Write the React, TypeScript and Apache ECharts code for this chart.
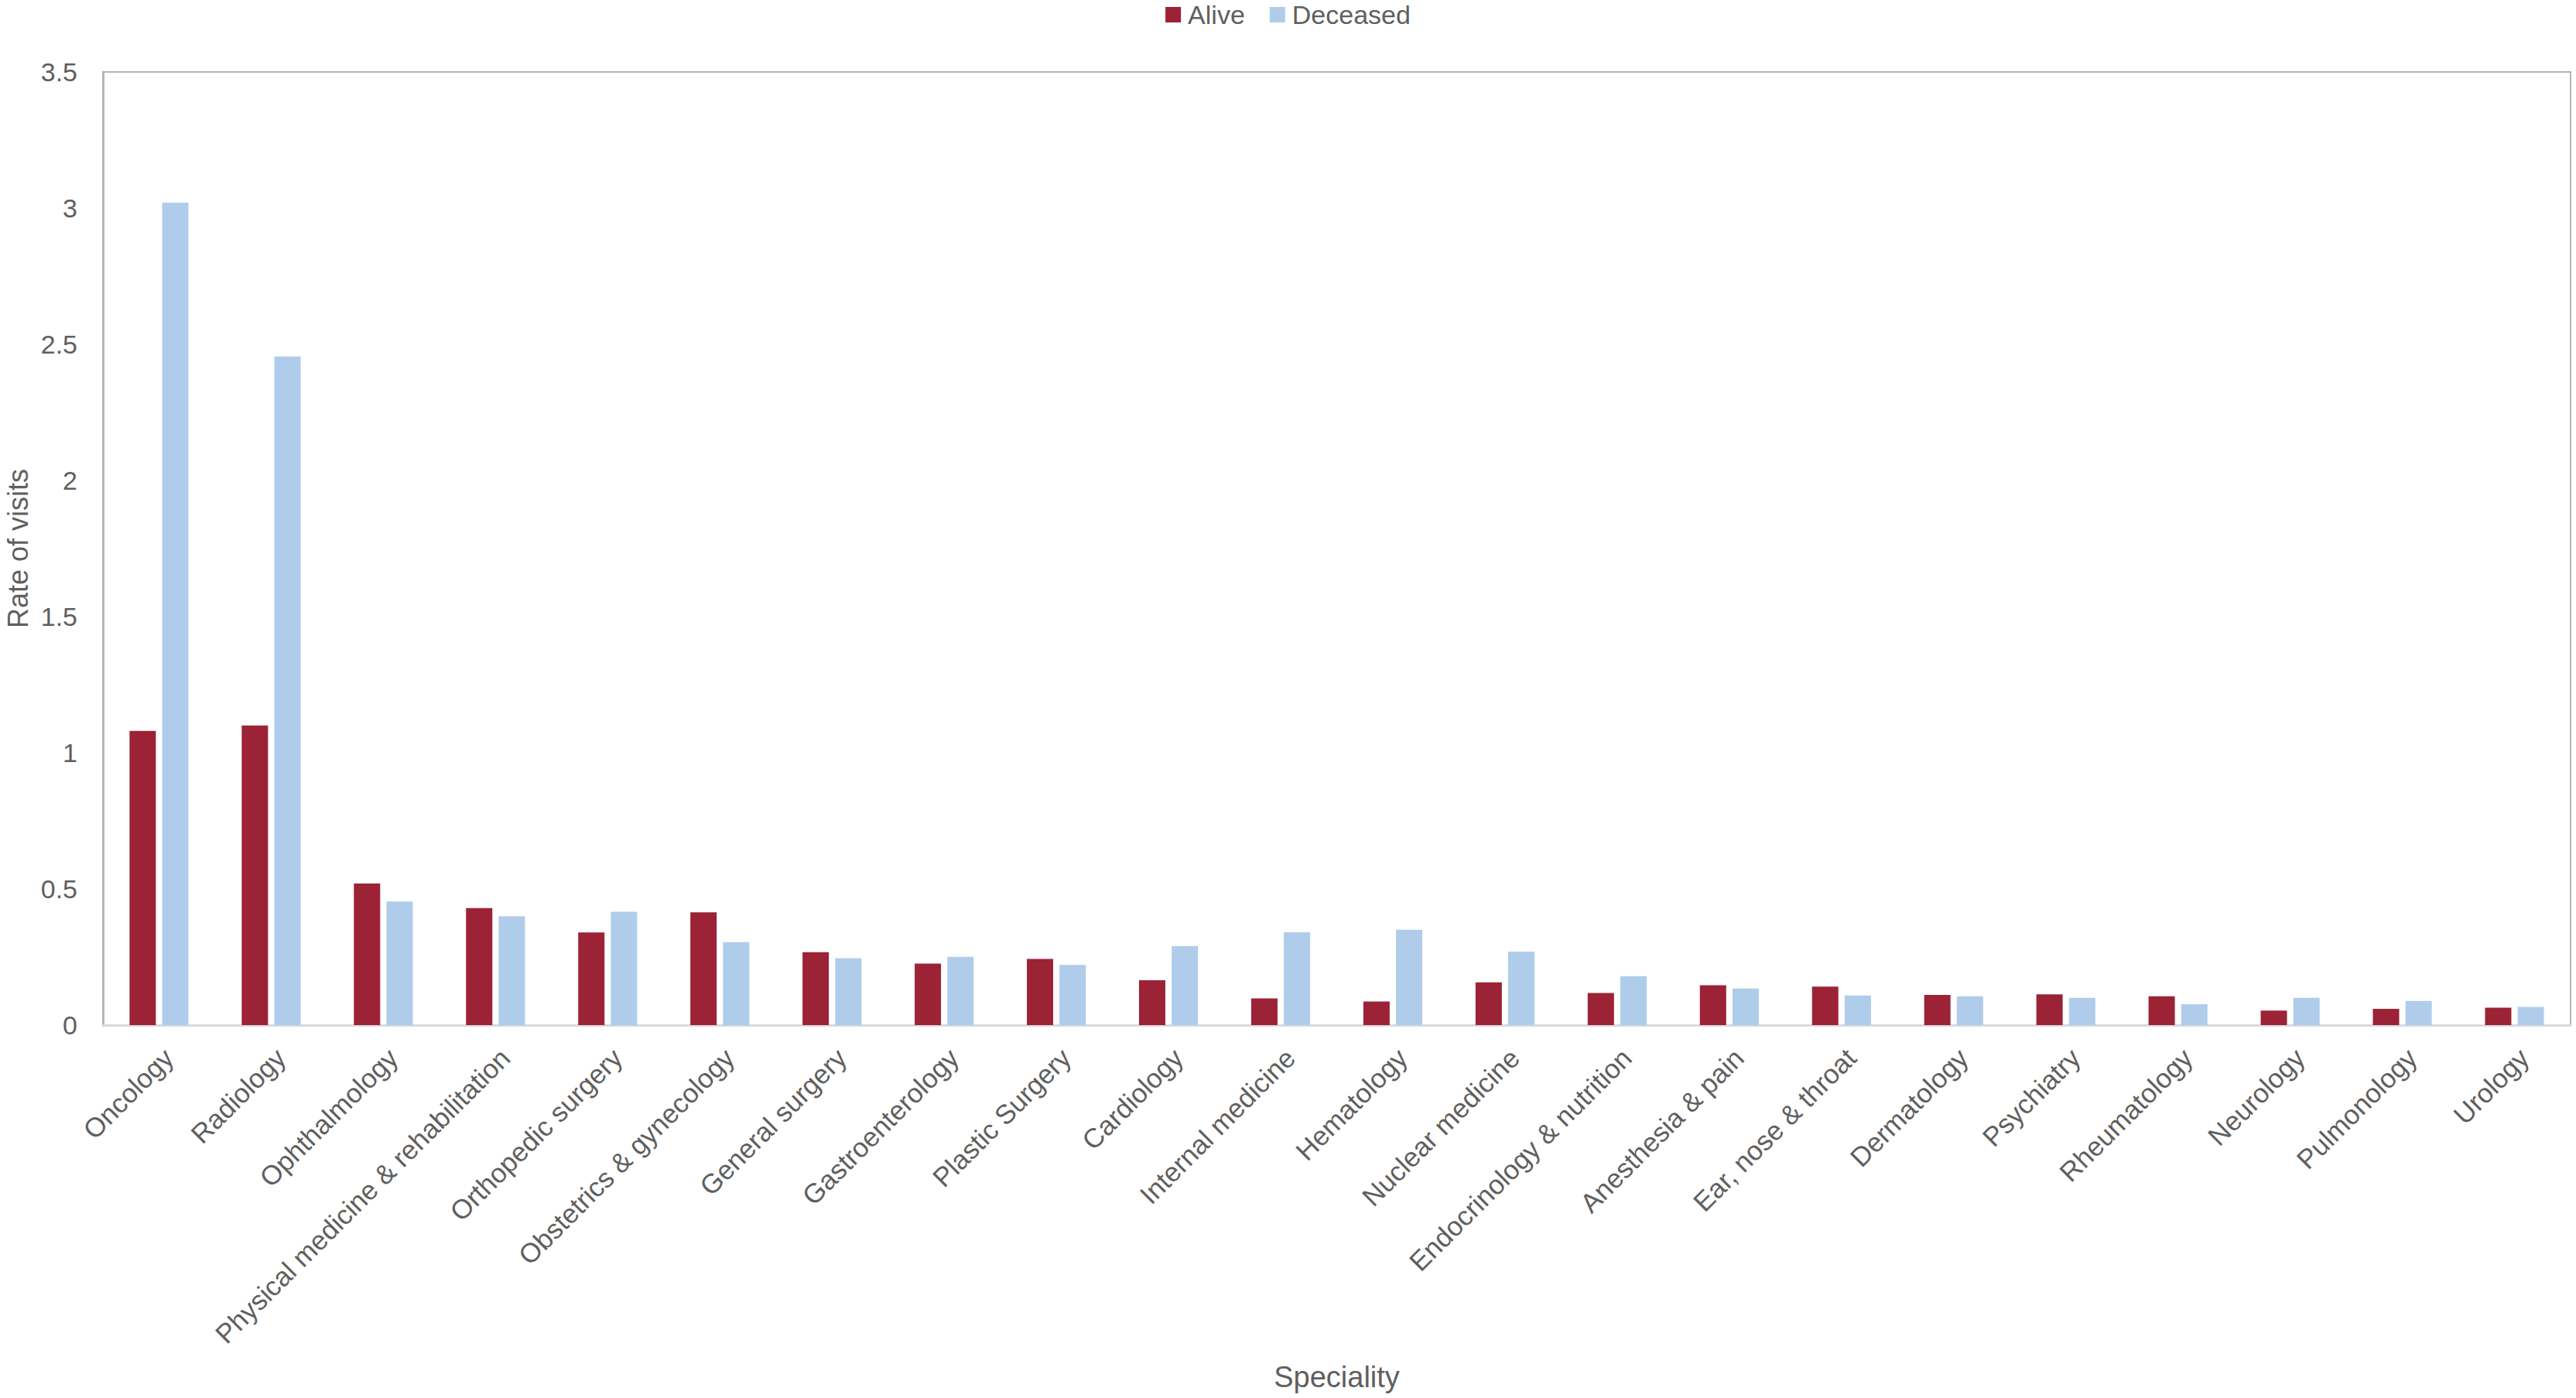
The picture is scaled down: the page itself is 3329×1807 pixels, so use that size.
import React, { useEffect, useRef } from "react";
import * as echarts from "echarts";

const categories = [
  "Oncology",
  "Radiology",
  "Ophthalmology",
  "Physical medicine & rehabilitation",
  "Orthopedic surgery",
  "Obstetrics & gynecology",
  "General surgery",
  "Gastroenterology",
  "Plastic Surgery",
  "Cardiology",
  "Internal medicine",
  "Hematology",
  "Nuclear medicine",
  "Endocrinology & nutrition",
  "Anesthesia & pain",
  "Ear, nose & throat",
  "Dermatology",
  "Psychiatry",
  "Rheumatology",
  "Neurology",
  "Pulmonology",
  "Urology",
];

const alive = [
  1.08, 1.1, 0.52, 0.43, 0.34, 0.414, 0.268, 0.226, 0.243, 0.165, 0.098,
  0.087, 0.157, 0.118, 0.146, 0.141, 0.111, 0.113, 0.106, 0.053, 0.06, 0.064,
];

const deceased = [
  3.02, 2.455, 0.454, 0.4, 0.416, 0.305, 0.246, 0.251, 0.221, 0.29, 0.341,
  0.35, 0.27, 0.18, 0.134, 0.109, 0.106, 0.1, 0.077, 0.1, 0.089, 0.067,
];

const seriesNames = ["Alive", "Deceased"];
const yMin = 0;
const yMax = 3.5;
const yInterval = 0.5;

const FONT = "Liberation Sans, Arial, Helvetica, sans-serif";
const TEXT = "#5f5f5f";

export default function App() {
  const ref = useRef<HTMLDivElement>(null);

  useEffect(() => {
    if (!ref.current) return;
    const chart = echarts.init(ref.current, undefined, { renderer: "svg" });
    chart.setOption({
      animation: false,
      backgroundColor: "#ffffff",
      textStyle: { fontFamily: FONT },
      legend: {
        data: seriesNames,
        top: 2,
        left: "center",
        padding: 0,
        itemWidth: 20,
        itemHeight: 20,
        itemGap: 32,
        icon: "rect",
        textStyle: {
          fontSize: 34,
          color: TEXT,
          fontFamily: FONT,
          padding: [0, 0, 0, 4],
        },
      },
      grid: {
        left: 133,
        right: 7,
        top: 93,
        bottom: 482,
        containLabel: false,
        outerBoundsMode: "none",
        show: true,
        borderColor: "#b5b5b5",
        borderWidth: 2,
        backgroundColor: "transparent",
      },
      xAxis: {
        type: "category",
        data: categories,
        name: "Speciality",
        nameLocation: "middle",
        nameGap: 436,
        nameTextStyle: { fontSize: 38, color: TEXT, fontFamily: FONT },
        axisLine: { show: true, lineStyle: { color: "#d9d9d9", width: 3 } },
        axisTick: { show: false },
        axisLabel: {
          interval: 0,
          rotate: 45,
          align: "right",
          verticalAlign: "top",
          margin: 24,
          fontSize: 35,
          color: TEXT,
          fontFamily: FONT,
        },
        splitLine: { show: false },
      },
      yAxis: {
        type: "value",
        min: yMin,
        max: yMax,
        interval: yInterval,
        name: "Rate of visits",
        nameLocation: "middle",
        nameGap: 90,
        nameTextStyle: { fontSize: 36, color: TEXT, fontFamily: FONT },
        axisLine: { show: true, lineStyle: { color: "#b5b5b5", width: 3 } },
        axisTick: { show: false },
        axisLabel: { margin: 33, fontSize: 34, color: TEXT, fontFamily: FONT },
        splitLine: { show: false },
      },
      series: [
        {
          name: seriesNames[0],
          type: "bar",
          data: alive,
          barWidth: 34,
          barGap: "24%",
          itemStyle: { color: "#9c2236" },
        },
        {
          name: seriesNames[1],
          type: "bar",
          data: deceased,
          barWidth: 34,
          barGap: "24%",
          itemStyle: { color: "#afcdeb" },
        },
      ],
    });
    return () => chart.dispose();
  }, []);

  return (
    <div
      ref={ref}
      style={{ position: "fixed", left: 0, top: 0, width: 3329, height: 1807 }}
    />
  );
}
